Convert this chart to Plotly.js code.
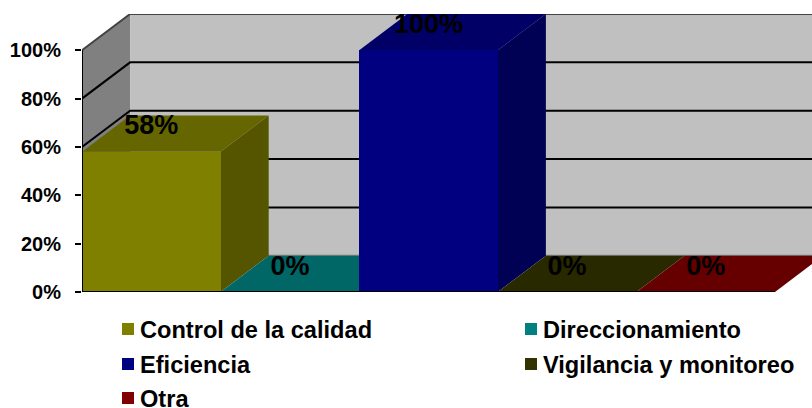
<!DOCTYPE html>
<html>
<head>
<meta charset="utf-8">
<script src="https://cdn.plot.ly/plotly-3.0.1.min.js"></script>
<style>html,body{margin:0;padding:0;background:#fff}#chart{width:812px;height:408px}</style>
</head>
<body>
<div id="chart"></div>
<script>
const categories = ['Control de la calidad','Direccionamiento','Eficiencia','Vigilancia y monitoreo','Otra'];
const values = [58, 0, 100, 0, 0];
const frontColors = ['#808000','#008080','#000080','#333300','#800000'];
const topColors = ['#666600','#006666','#000066','#292900','#660000'];
const sideColors = ['#555500','#005555','#000055','#222200','#550000'];
const yTicks = [0,20,40,60,80,100];
const yTickText = ['0%','20%','40%','60%','80%','100%'];

const W=812,H=408,mL=82,mT=14,mB=116;
const plotW=W-mL,plotH=H-mT-mB;
const depthX=0.347,depthY=15;
const xR=[-0.5,-0.5+plotW/138.6],yR=[0,100+depthY];
const idx=categories.map((_,i)=>i);
const poly=(x,y,color)=>({type:'scatter',mode:'none',x,y,fill:'toself',fillcolor:color,hoverinfo:'skip',showlegend:false,cliponaxis:false});
const line=(x,y,color,w,ax)=>Object.assign({type:'scatter',mode:'lines',x,y,line:{color,width:w},hoverinfo:'skip',showlegend:false,cliponaxis:false},ax||{});
const over={xaxis:'x2',yaxis:'y2'};

const traces=[];
// walls
traces.push(poly([-0.5,-0.5+depthX,-0.5+depthX,-0.5,-0.5],[0,depthY,100+depthY,100,0],'#808080'));
traces.push(poly([-0.5+depthX,xR[1],xR[1],-0.5+depthX,-0.5+depthX],[depthY,depthY,100+depthY,100+depthY,depthY],'#c0c0c0'));
// gridlines
yTicks.forEach(t=>{
  const col=t===100?'#444444':(t===0?'#808080':'#000000');
  traces.push(line([-0.5,-0.5+depthX,xR[1]],[t,t+depthY,t+depthY],col,2));
});
// top and side faces
idx.forEach(i=>{
  const v=values[i];
  if(v>0) traces.push(poly([i+.5,i+.5+depthX,i+.5+depthX,i+.5,i+.5],[0,depthY,v+depthY,v,0],sideColors[i]));
  traces.push(poly([i-.5,i+.5,i+.5+depthX,i-.5+depthX,i-.5],[v,v,v+depthY,v+depthY,v],topColors[i]));
});
// front faces
traces.push({type:'bar',x:idx,y:values,width:1,marker:{color:frontColors,line:{width:0}},hoverinfo:'skip',showlegend:false,xaxis:'x2',yaxis:'y2'});
// axis lines
traces.push(line([-0.5,-0.5],[0,100],'#000000',2,over));
traces.push(line([-0.5,4.5],[0,0],'#000000',2,over));
// data labels
traces.push({type:'scatter',mode:'text',x:idx,y:values.map(v=>v+10),text:values.map(v=>v+'%'),
  textfont:{family:'Liberation Sans, Arial, sans-serif',size:27,color:'#000',weight:700},textposition:'middle center',
  hoverinfo:'skip',showlegend:false,cliponaxis:false,xaxis:'x2',yaxis:'y2'});

// legend
const legendCols=[128,531],legendRows=[329,364,398];
const shapes=[],annotations=[];
categories.forEach((c,i)=>{
  const cx=legendCols[i%2],cy=legendRows[Math.floor(i/2)];
  const fx=(cx-mL)/plotW,fy=(H-mB-cy)/plotH;
  shapes.push({type:'rect',xref:'paper',yref:'paper',xsizemode:'pixel',ysizemode:'pixel',xanchor:fx,yanchor:fy,x0:-6,x1:6,y0:-6,y1:6,fillcolor:frontColors[i],line:{width:0}});
  annotations.push({xref:'paper',yref:'paper',x:fx,y:fy,xshift:10,yshift:-1,xanchor:'left',yanchor:'middle',showarrow:false,text:c,
    font:{family:'Liberation Sans, Arial, sans-serif',size:23.6,color:'#000',weight:700}});
});

const layout={
  width:W,height:H,margin:{l:mL,r:0,t:mT,b:mB,pad:0},paper_bgcolor:'#fff',plot_bgcolor:'rgba(0,0,0,0)',showlegend:false,
  font:{family:'Liberation Sans, Arial, sans-serif'},
  xaxis:{range:xR,visible:false,fixedrange:true},
  yaxis:{range:yR,tickvals:yTicks,ticktext:yTickText,ticks:'outside',ticklen:6,tickwidth:2,tickcolor:'#000',showgrid:false,zeroline:false,showline:false,
    ticklabelstandoff:10,tickfont:{family:'Liberation Sans, Arial, sans-serif',size:20,color:'#000',weight:700},fixedrange:true},
  xaxis2:{range:xR,overlaying:'x',visible:false,fixedrange:true},
  yaxis2:{range:yR,overlaying:'y',visible:false,fixedrange:true},
  barmode:'overlay',bargap:0,shapes,annotations
};
Plotly.newPlot('chart',traces,layout,{displayModeBar:false,staticPlot:true});
</script>
</body>
</html>
